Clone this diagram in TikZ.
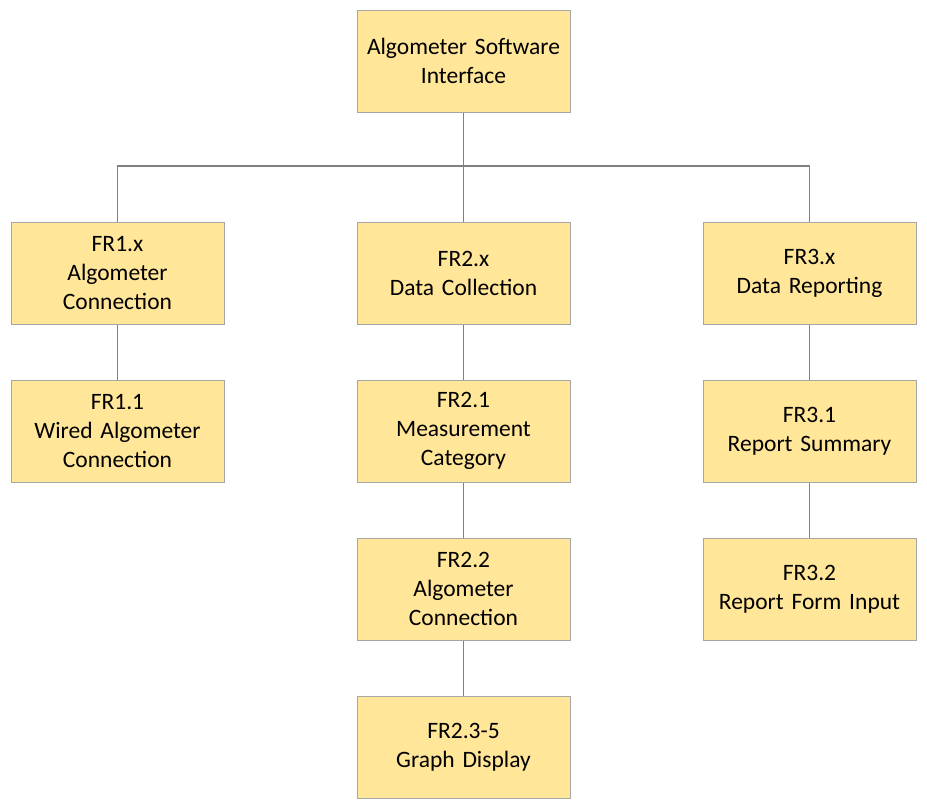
\documentclass[tikz,border=0pt]{standalone}
\usepackage{fontspec}
\setmainfont{Carlito}
\definecolor{boxfill}{HTML}{FFE699}
\definecolor{boxline}{HTML}{A6A6A6}
\definecolor{linkline}{HTML}{808080}
\begin{document}
\begin{tikzpicture}[x=1pt,y=-1pt,
  fbox/.style={draw=boxline, line width=1pt, fill=boxfill, minimum width=213pt, minimum height=102pt, inner sep=0pt, align=center, font=\fontsize{23.5}{29}\selectfont, text width=210pt},
  link/.style={draw=linkline, line width=1.3pt}]
\useasboundingbox (0,0) rectangle (927,809);
\node[fbox] (top) at (463.5,61) {Algometer Software\\Interface};
\node[fbox] (fr1) at (117.5,273) {FR1.x\\Algometer\\Connection};
\node[fbox] (fr2) at (463.5,273) {FR2.x\\Data Collection};
\node[fbox] (fr3) at (809.5,273) {FR3.x\\Data Reporting};
\node[fbox] (fr11) at (117.5,431) {FR1.1\\Wired Algometer\\Connection};
\node[fbox] (fr21) at (463.5,431) {FR2.1\\Measurement\\Category};
\node[fbox] (fr31) at (809.5,431) {FR3.1\\Report Summary};
\node[fbox] (fr22) at (463.5,589) {FR2.2\\Algometer\\Connection};
\node[fbox] (fr32) at (809.5,589) {FR3.2\\Report Form Input};
\node[fbox] (fr23) at (463.5,747) {FR2.3-5\\Graph Display};
\coordinate (bus) at (463.5,166);
\draw[link] (top.south) -- (fr2.north);
\draw[link] (bus) -| (fr1.north);
\draw[link] (bus) -| (fr3.north);
\draw[link] (fr1.south) -- (fr11.north);
\draw[link] (fr2.south) -- (fr21.north);
\draw[link] (fr21.south) -- (fr22.north);
\draw[link] (fr22.south) -- (fr23.north);
\draw[link] (fr3.south) -- (fr31.north);
\draw[link] (fr31.south) -- (fr32.north);
\end{tikzpicture}
\end{document}
